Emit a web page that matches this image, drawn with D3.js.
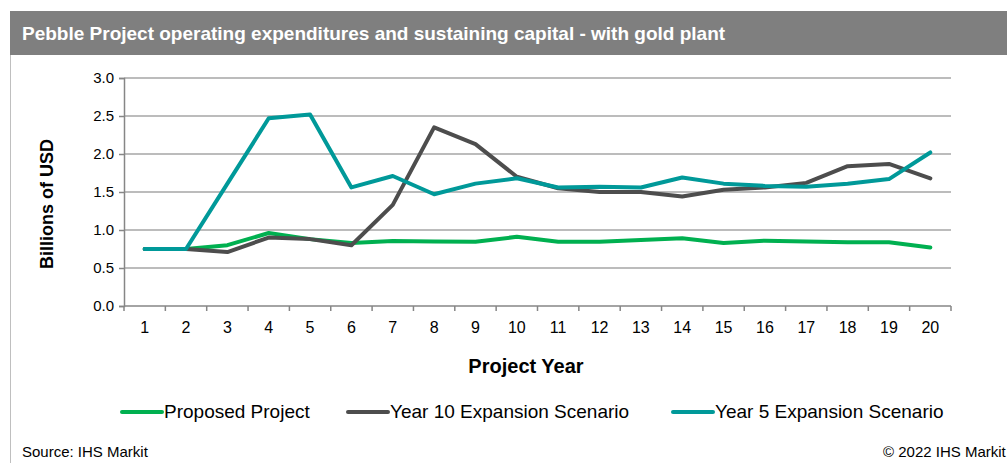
<!DOCTYPE html>
<html>
<head>
<meta charset="utf-8">
<script src="https://d3js.org/d3.v7.min.js"></script>
<style>
  body { margin: 0; background: #fff; }
  text { font-family: "Liberation Sans", Arial, sans-serif; }
</style>
</head>
<body>
<div id="vis"></div>
<script>
  // project years 1..20
  var years = d3.range(1, 21)
  var yTicks = [0, 0.5, 1.0, 1.5, 2.0, 2.5, 3.0]

  // billions of USD
  var proposed = [0.75, 0.75, 0.80, 0.96, 0.88, 0.83, 0.855, 0.85, 0.846, 0.91,
                  0.846, 0.846, 0.87, 0.89, 0.83, 0.86, 0.85, 0.84, 0.84, 0.77]
  var year10 = [0.75, 0.75, 0.71, 0.90, 0.88, 0.80, 1.33, 2.35, 2.13, 1.70,
                1.55, 1.50, 1.50, 1.44, 1.53, 1.56, 1.62, 1.84, 1.87, 1.68]
  var year5 = [0.75, 0.75, 1.61, 2.47, 2.52, 1.56, 1.71, 1.47, 1.61, 1.68,
               1.56, 1.57, 1.56, 1.69, 1.61, 1.58, 1.57, 1.61, 1.67, 2.02]

  var seriesNames = ["Proposed Project", "Year 10 Expansion Scenario", "Year 5 Expansion Scenario"]
  var seriesColors = ["#00b050", "#4d4d4d", "#009999"]
  var seriesData = [proposed, year10, year5]

  var W = 1007, H = 463
  var svg = d3.select("#vis").append("svg")
    .attr("width", W).attr("height", H)

  // title bar
  svg.append("rect")
    .attr("x", 10).attr("y", 11).attr("width", W - 10).attr("height", 44)
    .attr("fill", "#7f7f7f")
  svg.append("text")
    .attr("x", 22).attr("y", 40)
    .attr("fill", "#fff").attr("font-size", "19px").attr("font-weight", "bold")
    .text("Pebble Project operating expenditures and sustaining capital - with gold plant")

  // left border
  svg.append("line")
    .attr("x1", 10.5).attr("x2", 10.5).attr("y1", 55).attr("y2", H)
    .attr("stroke", "#bfbfbf").attr("stroke-width", 1)

  var plotLeft = 124, plotRight = 951, plotTop = 78, plotBottom = 306

  var x = d3.scaleBand().domain(years).range([plotLeft, plotRight])
  var y = d3.scaleLinear().domain([0, 3]).range([plotBottom, plotTop])

  // gridlines
  svg.append("g").selectAll("line")
    .data(yTicks.slice(1))
    .enter().append("line")
      .attr("x1", plotLeft).attr("x2", plotRight)
      .attr("y1", function(d) { return y(d) }).attr("y2", function(d) { return y(d) })
      .attr("stroke", "#a6a6a6").attr("stroke-width", 1.5)

  // y axis
  var yAxis = svg.append("g")
    .attr("transform", "translate(" + plotLeft + ",0)")
    .call(d3.axisLeft(y).tickValues(yTicks).tickFormat(d3.format(".1f")).tickSize(5).tickPadding(5))
  yAxis.select(".domain").attr("stroke", "#868686").attr("stroke-width", 1.5)
  yAxis.selectAll(".tick line").attr("stroke", "#868686").attr("stroke-width", 1.5)
  yAxis.selectAll("text").attr("font-size", "15px").attr("fill", "#000")
    .attr("font-family", "Liberation Sans, Arial, sans-serif")

  // x axis: ticks at band boundaries
  var xAxis = svg.append("g")
    .attr("transform", "translate(0," + plotBottom + ")")
  xAxis.append("line")
    .attr("x1", plotLeft).attr("x2", plotRight).attr("y1", 0).attr("y2", 0)
    .attr("stroke", "#868686").attr("stroke-width", 1.5)
  xAxis.selectAll("line.tk")
    .data(years.concat([21]))
    .enter().append("line").attr("class", "tk")
      .attr("x1", function(d) { return d <= 20 ? x(d) : plotRight })
      .attr("x2", function(d) { return d <= 20 ? x(d) : plotRight })
      .attr("y1", 0).attr("y2", 5)
      .attr("stroke", "#868686").attr("stroke-width", 1.5)
  xAxis.selectAll("text")
    .data(years)
    .enter().append("text")
      .attr("x", function(d) { return x(d) + x.bandwidth() / 2 })
      .attr("y", 27)
      .attr("text-anchor", "middle").attr("font-size", "16px").attr("fill", "#000")
      .text(function(d) { return d })

  // axis titles
  svg.append("text")
    .attr("x", 526).attr("y", 373)
    .attr("text-anchor", "middle").attr("font-size", "20px").attr("font-weight", "bold")
    .text("Project Year")
  svg.append("text")
    .attr("transform", "translate(53,204) rotate(-90)")
    .attr("text-anchor", "middle").attr("font-size", "18px").attr("font-weight", "bold")
    .text("Billions of USD")

  // lines
  var line = d3.line()
    .x(function(d, i) { return x(years[i]) + x.bandwidth() / 2 })
    .y(function(d) { return y(d) })

  seriesData.forEach(function(s, i) {
    svg.append("path")
      .datum(s)
      .attr("d", line)
      .attr("fill", "none")
      .attr("stroke", seriesColors[i])
      .attr("stroke-width", 4)
      .attr("stroke-linejoin", "round")
      .attr("stroke-linecap", "round")
  })

  // legend
  var legendX = [122, 348, 673]
  seriesNames.forEach(function(name, i) {
    var g = svg.append("g").attr("transform", "translate(" + legendX[i] + ",412)")
    g.append("line")
      .attr("x1", 0).attr("x2", 40).attr("y1", 0).attr("y2", 0)
      .attr("stroke", seriesColors[i]).attr("stroke-width", 4).attr("stroke-linecap", "round")
    g.append("text")
      .attr("x", 42).attr("y", 6)
      .attr("font-size", "19px").attr("fill", "#000")
      .text(name)
  })

  // footer
  svg.append("text")
    .attr("x", 22).attr("y", 457)
    .attr("font-size", "15px").attr("fill", "#000")
    .text("Source: IHS Markit")
  svg.append("text")
    .attr("x", 883).attr("y", 457)
    .attr("font-size", "15px").attr("fill", "#000")
    .text("© 2022 IHS Markit")
</script>
</body>
</html>
